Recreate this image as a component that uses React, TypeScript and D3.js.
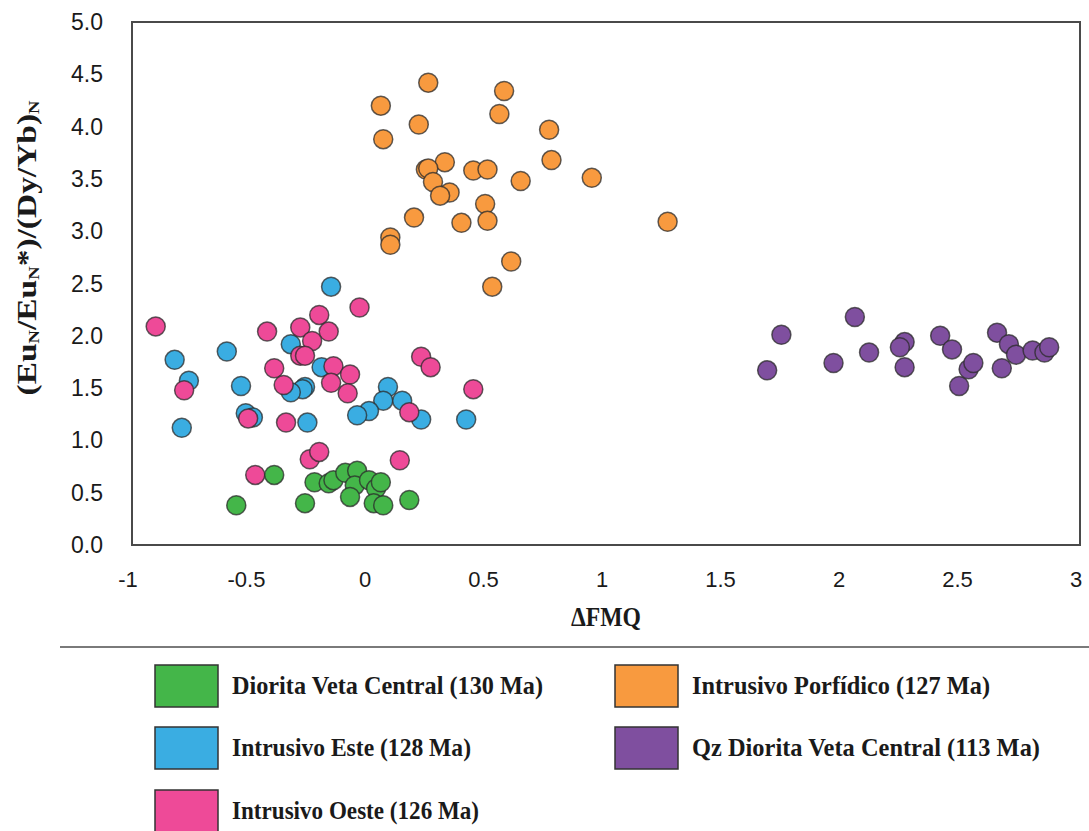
import React, { useRef, useEffect } from "react";
import * as d3 from "d3";

// ΔFMQ vs (EuN/EuN*)/(Dy/Yb)N
const dioritaVetaCentral = [
  [-0.56, 0.38], [-0.4, 0.67], [-0.27, 0.4], [-0.23, 0.6], [-0.17, 0.59],
  [-0.15, 0.62], [-0.1, 0.69], [-0.05, 0.71], [-0.06, 0.57], [-0.08, 0.46],
  [0.0, 0.62], [0.03, 0.54], [0.05, 0.6], [0.02, 0.4], [0.06, 0.38], [0.17, 0.43],
];

const intrusivoEste = [
  [-0.16, 2.47], [-0.82, 1.77], [-0.76, 1.57], [-0.6, 1.85], [-0.54, 1.52],
  [-0.79, 1.12], [-0.52, 1.26], [-0.49, 1.22], [-0.33, 1.92], [-0.2, 1.7],
  [-0.27, 1.51], [-0.28, 1.49], [-0.33, 1.46], [-0.26, 1.17], [0.08, 1.51],
  [0.06, 1.38], [0.14, 1.38], [0.0, 1.28], [-0.05, 1.24], [0.22, 1.2], [0.41, 1.2],
];

const intrusivoOeste = [
  [-0.9, 2.09], [-0.43, 2.04], [-0.29, 2.08], [-0.21, 2.2], [-0.17, 2.04],
  [-0.04, 2.27], [-0.24, 1.95], [-0.29, 1.81], [-0.27, 1.81], [-0.4, 1.69],
  [-0.15, 1.71], [-0.08, 1.63], [-0.16, 1.55], [-0.09, 1.45], [-0.36, 1.53],
  [-0.78, 1.48], [0.22, 1.8], [0.26, 1.7], [0.44, 1.49], [-0.51, 1.21],
  [-0.35, 1.17], [0.17, 1.27], [-0.25, 0.82], [-0.21, 0.89], [0.13, 0.81], [-0.48, 0.67],
];

const intrusivoPorfidico = [
  [0.25, 4.42], [0.57, 4.34], [0.05, 4.2], [0.21, 4.02], [0.55, 4.12],
  [0.06, 3.88], [0.76, 3.97], [0.32, 3.66], [0.24, 3.59], [0.25, 3.6],
  [0.44, 3.58], [0.5, 3.59], [0.77, 3.68], [0.64, 3.48], [0.94, 3.51],
  [0.27, 3.47], [0.34, 3.37], [0.3, 3.34], [0.49, 3.26], [0.19, 3.13],
  [0.39, 3.08], [0.5, 3.1], [1.26, 3.09], [0.09, 2.94], [0.09, 2.87],
  [0.6, 2.71], [0.52, 2.47],
];

const qzDioritaVetaCentral = [
  [1.74, 2.01], [1.68, 1.67], [2.05, 2.18], [1.96, 1.74], [2.11, 1.84],
  [2.26, 1.94], [2.24, 1.89], [2.26, 1.7], [2.41, 2.0], [2.46, 1.87],
  [2.49, 1.52], [2.53, 1.68], [2.55, 1.74], [2.65, 2.03], [2.67, 1.69],
  [2.7, 1.92], [2.73, 1.82], [2.8, 1.86], [2.85, 1.84], [2.87, 1.89],
];

const groupNames = [
  "Diorita Veta Central (130 Ma)",
  "Intrusivo Este (128 Ma)",
  "Intrusivo Oeste (126 Ma)",
  "Intrusivo Porfídico (127 Ma)",
  "Qz Diorita Veta Central (113 Ma)",
];
const groupColors = ["#44b649", "#3aade2", "#ee4a98", "#f89a3f", "#7f4f9f"];
const groupData = [
  dioritaVetaCentral,
  intrusivoEste,
  intrusivoOeste,
  intrusivoPorfidico,
  qzDioritaVetaCentral,
];
// drawing order (pink sits over blue in the figure)
const drawOrder = [1, 2, 0, 3, 4];

const xTicks = [-1, -0.5, 0, 0.5, 1, 1.5, 2, 2.5, 3];
const yTicks = [0, 0.5, 1, 1.5, 2, 2.5, 3, 3.5, 4, 4.5, 5];

const App = () => {
  const svgRef = useRef(null);

  useEffect(() => {
    const svg = d3.select(svgRef.current);
    svg.selectAll("*").remove();

    const width = 1089;
    const height = 831;
    const left = 132;
    const right = 1080;
    const top = 22;
    const bottom = 545;
    svg.attr("width", width).attr("height", height);

    const xScale = d3.scaleLinear().domain([-1, 3]).range([left, right]);
    const yScale = d3.scaleLinear().domain([0, 5]).range([bottom, top]);

    // frame
    svg
      .append("rect")
      .attr("x", left)
      .attr("y", top)
      .attr("width", right - left)
      .attr("height", bottom - top)
      .attr("fill", "none")
      .attr("stroke", "#4a4a4a")
      .attr("stroke-width", 2);

    // x tick labels
    svg
      .append("g")
      .selectAll("text")
      .data(xTicks)
      .enter()
      .append("text")
      .attr("x", (d) => xScale(d) - 4)
      .attr("y", 587)
      .attr("text-anchor", "middle")
      .style("font-family", "Liberation Sans, Arial, sans-serif")
      .style("font-size", "22px")
      .attr("fill", "#1a1a1a")
      .text((d) => String(d));

    // y tick labels
    svg
      .append("g")
      .selectAll("text")
      .data(yTicks)
      .enter()
      .append("text")
      .attr("x", 103)
      .attr("y", (d) => yScale(d) + 8)
      .attr("text-anchor", "end")
      .style("font-family", "Liberation Sans, Arial, sans-serif")
      .style("font-size", "23px")
      .attr("fill", "#1a1a1a")
      .text((d) => d3.format(".1f")(d));

    // axis titles
    svg
      .append("text")
      .attr("x", 606)
      .attr("y", 626)
      .attr("text-anchor", "middle")
      .style("font-family", "Liberation Serif, Times New Roman, serif")
      .style("font-weight", "bold")
      .style("font-size", "28px")
      .attr("fill", "#1a1a1a")
      .attr("textLength", 70)
      .attr("lengthAdjust", "spacingAndGlyphs")
      .text("ΔFMQ");

    const yTitle = svg
      .append("text")
      .attr("transform", "translate(36, 248) rotate(-90)")
      .attr("text-anchor", "middle")
      .attr("textLength", 295)
      .attr("lengthAdjust", "spacingAndGlyphs")
      .style("font-family", "Liberation Serif, Times New Roman, serif")
      .style("font-weight", "bold")
      .style("font-size", "27px")
      .attr("fill", "#1a1a1a");
    const parts = [
      ["(Eu", false],
      ["N", true],
      ["/Eu", false],
      ["N", true],
      ["*)/(Dy/Yb)", false],
      ["N", true],
    ];
    parts.forEach(([t, sub], i) => {
      const span = yTitle.append("tspan").text(t);
      if (sub) span.style("font-size", "15px").attr("dy", 3);
      else if (i > 0) span.attr("dy", -3);
    });

    // points
    drawOrder.forEach((gi) => {
      svg
        .append("g")
        .selectAll("circle")
        .data(groupData[gi])
        .enter()
        .append("circle")
        .attr("cx", (d) => xScale(d[0]))
        .attr("cy", (d) => yScale(d[1]))
        .attr("r", 9.5)
        .attr("fill", groupColors[gi])
        .attr("stroke", "#2b2b2b")
        .attr("stroke-opacity", 0.75)
        .attr("stroke-width", 1.5);
    });

    // separator
    svg
      .append("line")
      .attr("x1", 60)
      .attr("x2", width)
      .attr("y1", 647)
      .attr("y2", 647)
      .attr("stroke", "#7a7a7a")
      .attr("stroke-width", 2);

    // legend
    const legendPos = [
      [155, 665],
      [155, 727],
      [155, 790],
      [615, 665],
      [615, 727],
    ];
    const legendWidths = [311, 239, 247, 298, 348];
    groupNames.forEach((name, i) => {
      const [lx, ly] = legendPos[i];
      const row = svg.append("g").attr("transform", `translate(${lx}, ${ly})`);
      row
        .append("rect")
        .attr("width", 63)
        .attr("height", 42)
        .attr("fill", groupColors[i])
        .attr("stroke", "#333")
        .attr("stroke-width", 1.5);
      row
        .append("text")
        .attr("x", 77)
        .attr("y", 29)
        .style("font-family", "Liberation Serif, Times New Roman, serif")
        .style("font-weight", "bold")
        .style("font-size", "25px")
        .attr("fill", "#1a1a1a")
        .attr("textLength", legendWidths[i])
        .attr("lengthAdjust", "spacingAndGlyphs")
        .text(name);
    });
  }, []);

  return (
    <svg
      ref={svgRef}
      style={{ position: "absolute", left: 0, top: 0, background: "#fff" }}
    />
  );
};

export default App;
